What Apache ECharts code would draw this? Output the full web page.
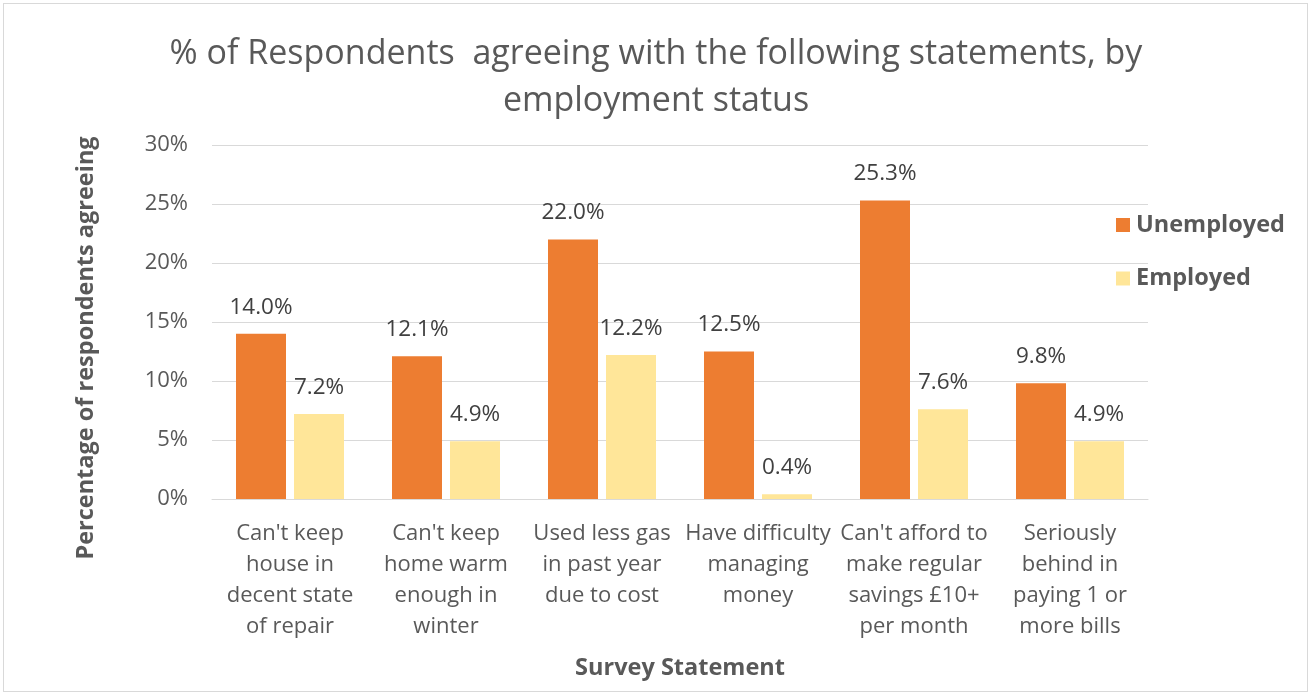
<!DOCTYPE html>
<html>
<head>
<meta charset="utf-8">
<script src="https://cdn.jsdelivr.net/npm/echarts@6/dist/echarts.min.js"></script>
<style>
  html, body { margin: 0; padding: 0; background: #fff; }
  #frame { position: absolute; left: 3px; top: 3px; width: 1305px; height: 689px; border: 1px solid #d9d9d9; box-sizing: border-box; }
  #chart { position: absolute; left: 0; top: 0; width: 1312px; height: 697px; }
</style>
</head>
<body>
<div id="frame"></div>
<div id="chart"></div>
<script>
// Survey statements (x axis categories)
const categories = [
  "Can't keep\nhouse in\ndecent state\nof repair",
  "Can't keep\nhome warm\nenough in\nwinter",
  "Used less gas\nin past year\ndue to cost",
  "Have difficulty\nmanaging\nmoney",
  "Can't afford to\nmake regular\nsavings £10+\nper month",
  "Seriously\nbehind in\npaying 1 or\nmore bills"
];
// Percentage agreeing, by employment status
const unemployed = [14.0, 12.1, 22.0, 12.5, 25.3, 9.8];
const employed = [7.2, 4.9, 12.2, 0.4, 7.6, 4.9];
const yTicks = [0, 5, 10, 15, 20, 25, 30];

const FONT = "'Open Sans', 'Noto Sans', sans-serif";
const GREY = '#595959';
const chart = echarts.init(document.getElementById('chart'), null, { renderer: 'canvas' });

const valueLabel = {
  show: true, position: 'top', distance: 15,
  fontFamily: FONT, fontSize: 22.5, color: '#404040',
  formatter: p => p.value.toFixed(1) + '%'
};

chart.setOption({
  backgroundColor: 'transparent',
  animation: false,
  textStyle: { fontFamily: FONT },
  title: {
    text: '% of Respondents  agreeing with the following statements, by\nemployment status',
    left: 'center',
    top: 26,
    textStyle: { fontFamily: FONT, fontSize: 34, fontWeight: 'normal', color: GREY, lineHeight: 47 }
  },
  legend: {
    orient: 'vertical',
    left: 1111,
    top: 208,
    itemWidth: 14,
    itemHeight: 14,
    itemGap: 29.5,
    icon: 'rect',
    textStyle: { fontFamily: FONT, fontSize: 23.5, fontWeight: 'bold', color: GREY, padding: [0, 0, 0, 1] },
    data: ['Unemployed', 'Employed']
  },
  grid: { left: 212, right: 164, top: 145, bottom: 198, containLabel: false },
  graphic: [{
    // vertical axis title, drawn beside the plot
    type: 'text',
    x: 86,
    y: 348,
    rotation: Math.PI / 2,
    style: {
      text: 'Percentage of respondents agreeing',
      fontFamily: FONT,
      fontSize: 23.5,
      fontWeight: 'bold',
      fill: GREY,
      align: 'center',
      verticalAlign: 'middle'
    }
  }],
  xAxis: {
    type: 'category',
    data: categories,
    name: 'Survey Statement',
    nameLocation: 'middle',
    nameGap: 157,
    nameTextStyle: { fontFamily: FONT, fontSize: 23.5, fontWeight: 'bold', color: GREY },
    axisLine: { lineStyle: { color: '#d9d9d9', width: 1 } },
    axisTick: { show: false },
    axisLabel: {
      interval: 0,
      fontFamily: FONT,
      fontSize: 22,
      color: GREY,
      lineHeight: 31,
      margin: 19,
      verticalAlign: 'top'
    }
  },
  yAxis: {
    type: 'value',
    min: yTicks[0],
    max: yTicks[yTicks.length - 1],
    interval: 5,
    axisLine: { show: false },
    axisTick: { show: false },
    splitLine: { lineStyle: { color: '#d9d9d9', width: 1 } },
    axisLabel: {
      fontFamily: FONT,
      fontSize: 22,
      color: GREY,
      margin: 24,
      formatter: v => v + '%'
    }
  },
  series: [
    {
      name: 'Unemployed',
      type: 'bar',
      data: unemployed,
      barWidth: 50,
      barGap: '16%',
      itemStyle: { color: '#ed7d31' },
      label: valueLabel
    },
    {
      name: 'Employed',
      type: 'bar',
      data: employed,
      barWidth: 50,
      itemStyle: { color: '#ffe699' },
      label: valueLabel
    }
  ]
});
</script>
</body>
</html>
